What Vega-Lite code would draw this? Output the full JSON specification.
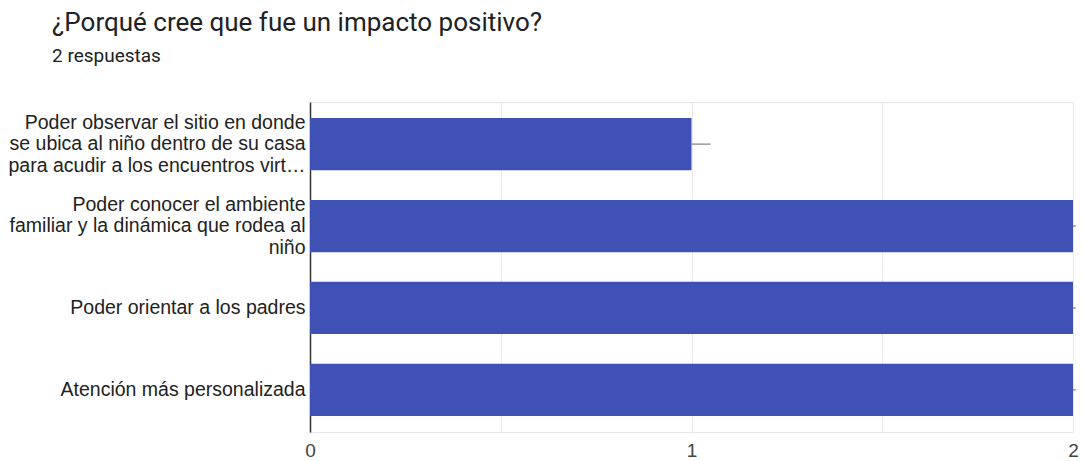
{
  "$schema": "https://vega.github.io/schema/vega-lite/v6.json",
  "autosize": {"type": "none"},
  "padding": {"left": 310, "top": 102, "right": 9, "bottom": 29},
  "width": 763,
  "height": 330,
  "background": "white",
  "title": {
    "text": "¿Porqué cree que fue un impacto positivo?",
    "subtitle": "2 respuestas",
    "anchor": "start",
    "frame": "group",
    "dx": -258,
    "offset": 36,
    "font": "Roboto",
    "fontSize": 26,
    "fontWeight": "normal",
    "color": "#202124",
    "subtitleFont": "Roboto",
    "subtitleFontSize": 19,
    "subtitleColor": "#202124",
    "subtitlePadding": 11
  },
  "config": {
    "view": {"stroke": "#e6e6e6", "strokeWidth": 1}
  },
  "data": {
    "values": [
      {"respuesta": "Poder observar el sitio en donde|se ubica al niño dentro de su casa|para acudir a los encuentros virt…", "conteo": 1, "error_alto": 1.05},
      {"respuesta": "Poder conocer el ambiente|familiar y la dinámica que rodea al|niño", "conteo": 2, "error_alto": 2.008},
      {"respuesta": "Poder orientar a los padres", "conteo": 2, "error_alto": 2.008},
      {"respuesta": "Atención más personalizada", "conteo": 2, "error_alto": 2.008}
    ]
  },
  "encoding": {
    "y": {
      "field": "respuesta",
      "type": "nominal",
      "sort": null,
      "scale": {"paddingInner": 0.363, "paddingOuter": 0.196},
      "axis": {
        "title": null,
        "ticks": false,
        "domain": true,
        "domainColor": "#333333",
        "domainWidth": 1.5,
        "labelExpr": "split(datum.label, '|')",
        "labelFont": "Liberation Sans",
        "labelFontSize": 19.5,
        "labelColor": "#222222",
        "labelLineHeight": 21.5,
        "labelLimit": 2000,
        "labelPadding": 5,
        "labelAlign": "right",
        "labelOffset": {"condition": {"test": "indexof(datum.label, '|') >= 0", "value": -21.5}, "value": 0}
      }
    }
  },
  "layer": [
    {
      "mark": {"type": "bar", "color": "#3f51b5"},
      "encoding": {
        "x": {
          "field": "conteo",
          "type": "quantitative",
          "scale": {"domain": [0, 2], "nice": false},
          "axis": {
            "title": null,
            "values": [0, 0.5, 1, 1.5, 2],
            "labelExpr": "datum.value % 1 === 0 ? format(datum.value, 'd') : ''",
            "labelOverlap": false,
            "domain": false,
            "ticks": false,
            "grid": true,
            "gridColor": "#ebebeb",
            "gridWidth": 1,
            "labelFont": "Liberation Sans",
            "labelFontSize": 19,
            "labelColor": "#444444",
            "labelPadding": 9,
            "labelFlush": false
          }
        }
      }
    },
    {
      "mark": {"type": "rule", "color": "#999999", "strokeWidth": 1.5},
      "encoding": {
        "x": {"field": "conteo", "type": "quantitative"},
        "x2": {"field": "error_alto"}
      }
    }
  ]
}
